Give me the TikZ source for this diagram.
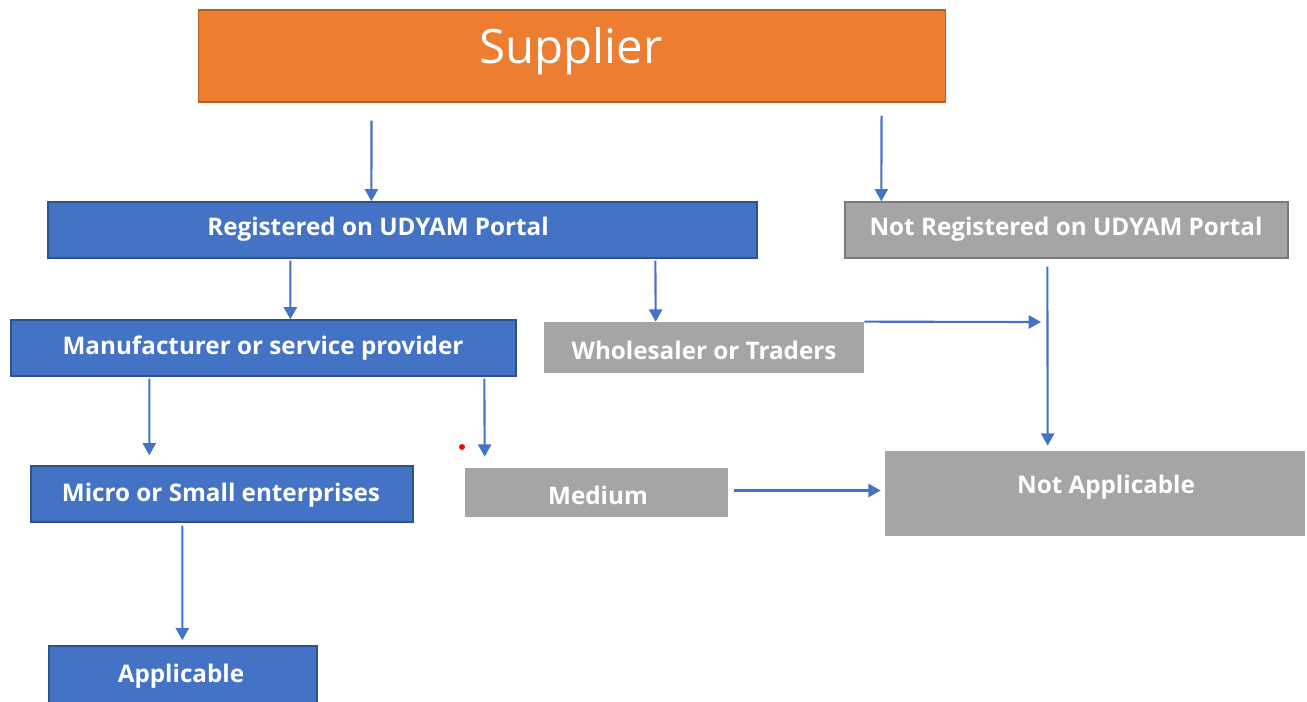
\documentclass[tikz,border=0pt]{standalone}
\usepackage{fontspec}
\setmainfont{Open Sans}
\usetikzlibrary{arrows.meta,calc}
\definecolor{orng}{HTML}{ED7D31}
\definecolor{orngd}{HTML}{B45F24}
\definecolor{blu}{HTML}{4472C4}
\definecolor{blud}{HTML}{2F528F}
\definecolor{gry}{HTML}{A5A5A5}
\definecolor{gryd}{HTML}{7A7A7A}
\definecolor{arrc}{HTML}{4472C4}
\begin{document}
\begin{tikzpicture}[x=0.02cm,y=-0.02cm,
  boxbase/.style={rectangle,inner sep=0pt,anchor=center},
  orangebox/.style={boxbase,fill=orng,draw=orngd,line width=0.6pt},
  bluebox/.style={boxbase,fill=blu,draw=blud,line width=0.8pt},
  graybox/.style={boxbase,fill=gry},
  graydbox/.style={boxbase,fill=gry,draw=gryd,line width=0.8pt},
  txt/.style={text=white,font=\fontsize{13.8}{16}\selectfont\bfseries,inner sep=0pt},
  arr/.style={draw=arrc,line width=1.2pt,-{Triangle[width=7.5pt,length=7pt]}}]
\clip (0,0) rectangle (1307,701);
\fill[white] (0,0) rectangle (1307,701);
% boxes
\node[orangebox,minimum width=14.96cm,minimum height=1.84cm] (sup) at (572,56) {};
\node[bluebox,minimum width=14.18cm,minimum height=1.12cm] (reg) at (402.5,230) {};
\node[graydbox,minimum width=8.86cm,minimum height=1.12cm] (nreg) at (1066.5,230) {};
\node[bluebox,minimum width=10.10cm,minimum height=1.12cm] (man) at (263.5,348) {};
\node[graybox,minimum width=6.40cm,minimum height=1.02cm] (who) at (704,347.5) {};
\node[bluebox,minimum width=7.64cm,minimum height=1.12cm] (mic) at (222,494) {};
\node[graybox,minimum width=5.26cm,minimum height=0.98cm] (med) at (596.5,492.5) {};
\node[graybox,minimum width=8.40cm,minimum height=1.70cm] (na) at (1095,493.5) {};
\node[bluebox,minimum width=5.36cm,minimum height=1.20cm] (app) at (183,676) {};
% texts
\node[txt,font=\fontsize{27}{30}\selectfont] at (571,51) {Supplier};
\node[txt] at (378,229) {Registered on UDYAM Portal};
\node[txt] at (1066,229) {Not Registered on UDYAM Portal};
\node[txt] at (263,348) {Manufacturer or service provider};
\node[txt] at (704,350) {Wholesaler or Traders};
\node[txt] at (221,495) {Micro or Small enterprises};
\node[txt] at (598,495) {Medium};
\node[txt] at (1106,487) {Not Applicable};
\node[txt] at (181,676) {Applicable};
% connectors
\draw[arr] ($(sup.south west)+(174,18)$) -- ($(reg.north west)+(324,0)$);
\draw[arr] ($(sup.south west)+(684,13)$) -- ($(nreg.north west)+(37,0)$);
\draw[arr] ($(reg.south west)+(243,2)$) -- ($(man.north west)+(280,0)$);
\draw[arr] ($(reg.south west)+(608,2)$) -- ($(who.north west)+(112,0)$);
\coordinate (wend) at (1041,322);
\draw[arr] (who.north east) -- (wend);
\draw[arr] ($(nreg.south west)+(203,8)$) -- ($(na.north west)+(163,-5)$);
\draw[arr] ($(man.south west)+(139,2)$) -- ($(mic.north west)+(119,-10)$);
\draw[arr] ($(man.south west)+(474,2)$) -- ($(med.north west)+(20,-11)$);
\draw[arr] ($(med.east)+(6,-2)$) -- ($(na.west)+(-4,-3)$);
\draw[arr] ($(mic.south west)+(152,3)$) -- ($(app.north west)+(134,-5)$);
% red dot
\node[circle,fill=red,inner sep=0pt,minimum size=0.12cm] (dot) at (462,447) {};
\end{tikzpicture}
\end{document}
